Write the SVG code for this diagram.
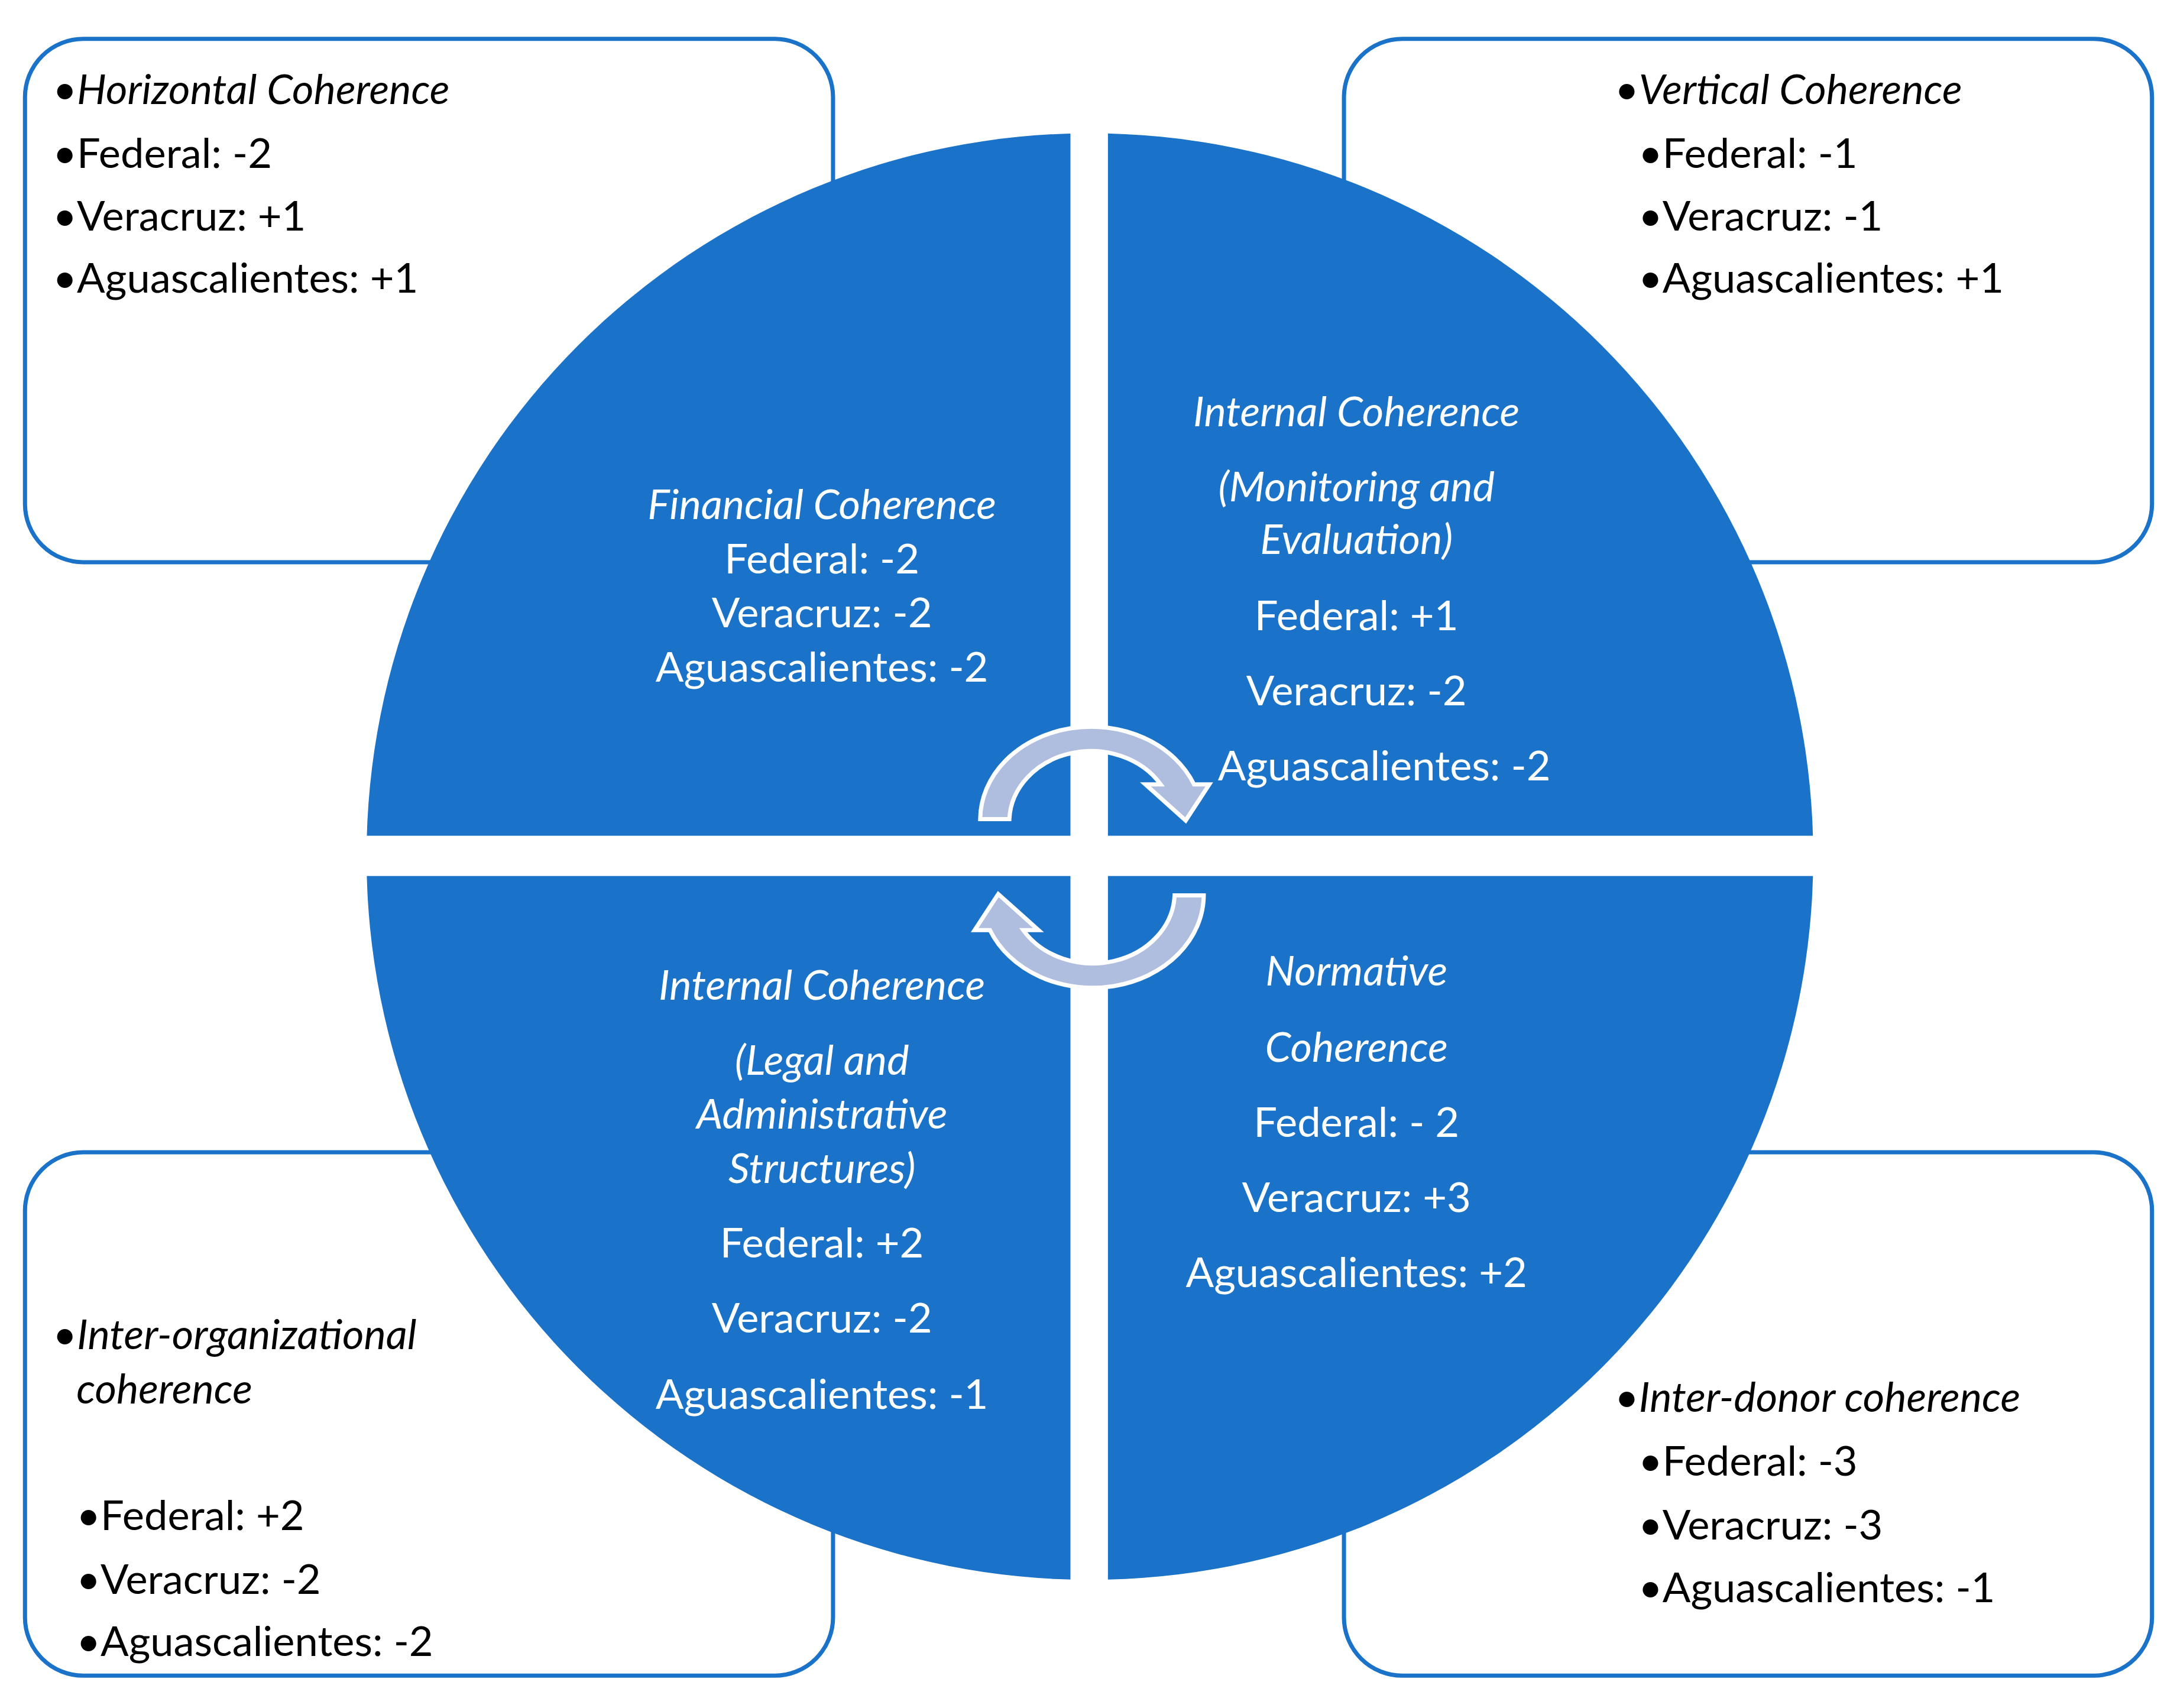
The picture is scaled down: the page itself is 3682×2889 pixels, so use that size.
<svg xmlns="http://www.w3.org/2000/svg" width="3682" height="2889" viewBox="0 0 3682 2889">
<style>
.box{fill:#fff;stroke:#1a73c8;stroke-width:3}
text{font-family:Lato,"Open Sans",sans-serif;font-size:30px}
.k{fill:#000}
.w{fill:#fff;text-anchor:middle}
.i{font-style:italic}
.arr{fill:#afbddf;stroke:#fff;stroke-width:3}
</style>
<rect width="3682" height="2889" fill="#fff"/>
<g transform="scale(2.3482)">
<g id="box-horizontal"><rect class="box" x="18" y="28" width="582" height="377" rx="42"/>
<text class="k" x="38" y="75">•<tspan class="i">Horizontal Coherence</tspan></text>
<text class="k" x="38" y="121">•Federal: -2</text>
<text class="k" x="38" y="166">•Veracruz: +1</text>
<text class="k" x="38" y="211">•Aguascalientes: +1</text></g>
<g id="box-vertical"><rect class="box" x="968" y="28" width="582" height="377" rx="42"/>
<text class="k" x="1163" y="75">•<tspan class="i">Vertical Coherence</tspan></text>
<text class="k" x="1180" y="121">•Federal: -1</text>
<text class="k" x="1180" y="166">•Veracruz: -1</text>
<text class="k" x="1180" y="211">•Aguascalientes: +1</text></g>
<g id="box-interorg"><rect class="box" x="18" y="830" width="582" height="377" rx="42"/>
<text class="k" x="38" y="972">•<tspan class="i">Inter-organizational</tspan></text>
<text class="k i" x="55" y="1011">coherence</text>
<text class="k" x="55" y="1102">•Federal: +2</text>
<text class="k" x="55" y="1148">•Veracruz: -2</text>
<text class="k" x="55" y="1193">•Aguascalientes: -2</text></g>
<g id="box-interdonor"><rect class="box" x="968" y="830" width="582" height="377" rx="42"/>
<text class="k" x="1163" y="1017">•<tspan class="i">Inter-donor coherence</tspan></text>
<text class="k" x="1180" y="1063">•Federal: -3</text>
<text class="k" x="1180" y="1109">•Veracruz: -3</text>
<text class="k" x="1180" y="1154">•Aguascalientes: -1</text></g>
<g id="circle">
<circle cx="785" cy="617" r="521" fill="#1a73c8"/>
<rect x="771" y="90" width="27" height="1060" fill="#fff"/>
<rect x="255" y="602" width="1060" height="29" fill="#fff"/>
</g>
<g id="q-financial">
<text class="w i" x="592" y="374">Financial Coherence</text>
<text class="w" x="592" y="413">Federal: -2</text>
<text class="w" x="592" y="452">Veracruz: -2</text>
<text class="w" x="592" y="491">Aguascalientes: -2</text></g>
<g id="q-monitoring">
<text class="w i" x="977" y="307">Internal Coherence</text>
<text class="w i" x="977" y="361">(Monitoring and</text>
<text class="w i" x="977" y="399">Evaluation)</text>
<text class="w" x="977" y="454">Federal: +1</text>
<text class="w" x="977" y="508">Veracruz: -2</text>
<text class="w" x="997" y="562">Aguascalientes: -2</text></g>
<g id="q-legal">
<text class="w i" x="592" y="720">Internal Coherence</text>
<text class="w i" x="592" y="774">(Legal and</text>
<text class="w i" x="592" y="813">Administrative</text>
<text class="w i" x="592" y="852">Structures)</text>
<text class="w" x="592" y="906">Federal: +2</text>
<text class="w" x="592" y="960">Veracruz: -2</text>
<text class="w" x="592" y="1015">Aguascalientes: -1</text></g>
<g id="q-normative">
<text class="w i" x="977" y="710">Normative</text>
<text class="w i" x="977" y="765">Coherence</text>
<text class="w" x="977" y="819">Federal: - 2</text>
<text class="w" x="977" y="873">Veracruz: +3</text>
<text class="w" x="977" y="927">Aguascalientes: +2</text></g>
<g id="connectors">
<path id="arrow-top" class="arr" d="M706,590 A80,67 0 0 1 860,565 L871,565 L854,591 L825,565 L836,565 A59,51 0 0 0 727,590 Z"/>
<path id="arrow-bottom" class="arr" transform="rotate(180 786.5 617.5)" d="M706,590 A80,67 0 0 1 860,565 L871,565 L854,591 L825,565 L836,565 A59,51 0 0 0 727,590 Z"/>
</g>
</g>
</svg>
